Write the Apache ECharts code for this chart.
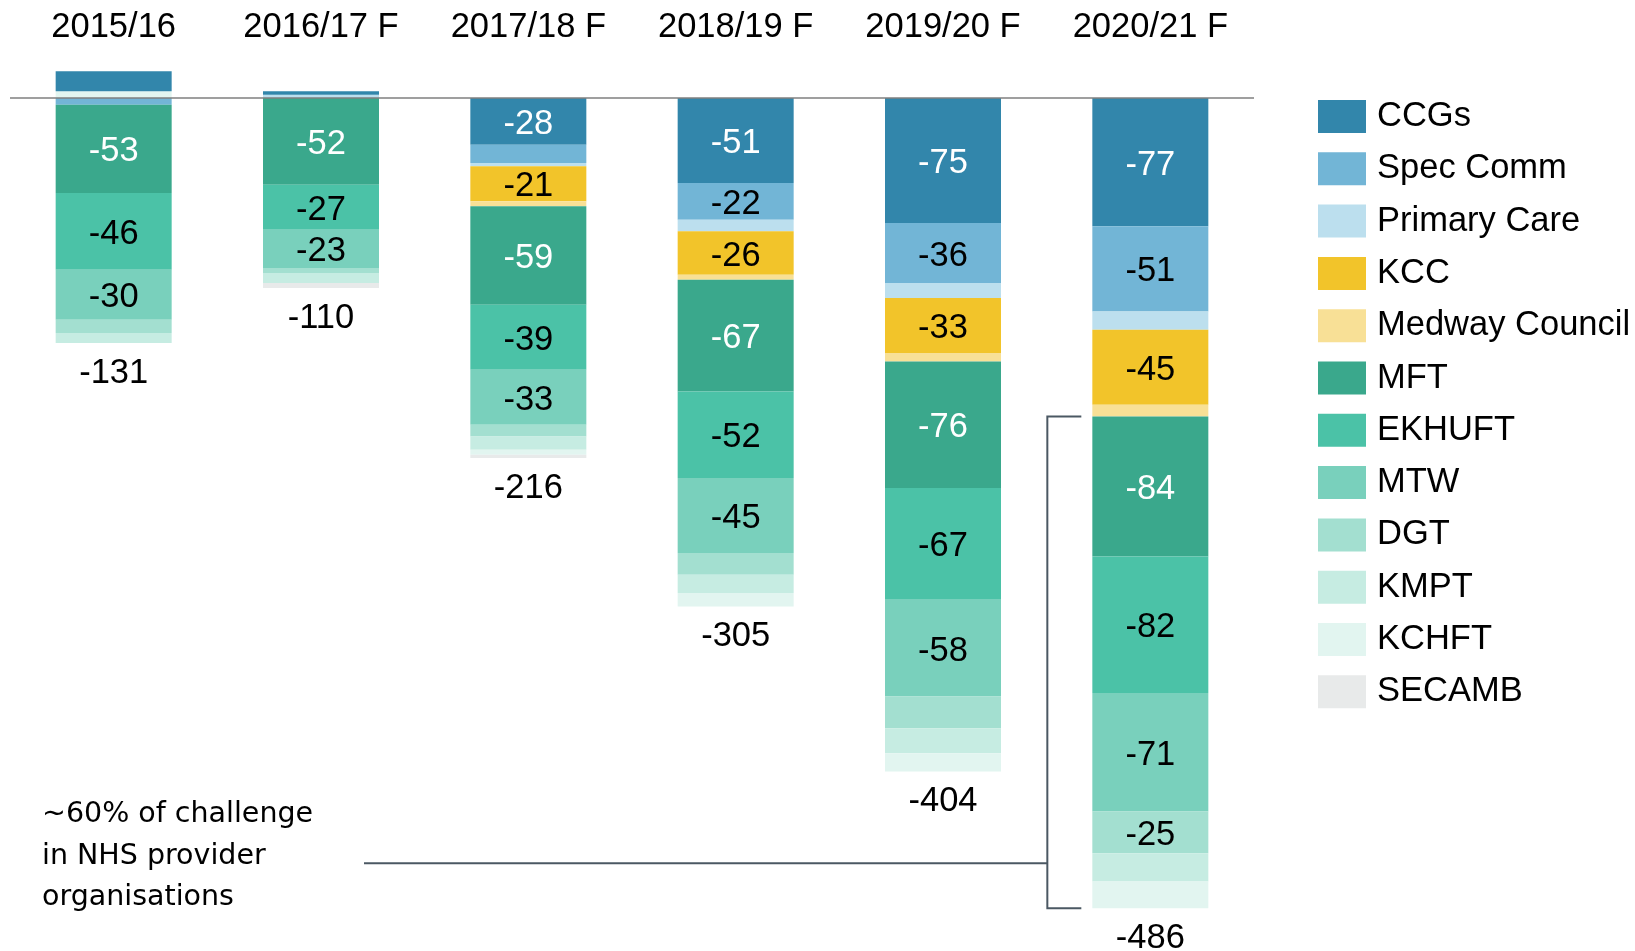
<!DOCTYPE html>
<html>
<head>
<meta charset="utf-8">
<script src="https://cdn.jsdelivr.net/npm/echarts@6/dist/echarts.min.js"></script>
<style>
html,body{margin:0;padding:0;background:#fff;}
#chart{width:1635px;height:951px;}
</style>
</head>
<body>
<div id="chart"></div>
<script>
const categories = ['2015/16', '2016/17 F', '2017/18 F', '2018/19 F', '2019/20 F', '2020/21 F'];

const seriesNames = ['CCGs', 'Spec Comm', 'Primary Care', 'KCC', 'Medway Council', 'MFT', 'EKHUFT', 'MTW', 'DGT', 'KMPT', 'KCHFT', 'SECAMB'];

const ccgs        = [12,   2, -28, -51, -75, -77];
const specComm    = [-4,   0, -11, -22, -36, -51];
const primaryCare = [0,    2,  -2,  -7,  -9, -11];
const kcc         = [0,    0, -21, -26, -33, -45];
const medway      = [0,    0,  -3,  -3,  -5,  -7];
const mft         = [-53, -52, -59, -67, -76, -84];
const ekhuft      = [-46, -27, -39, -52, -67, -82];
const mtw         = [-30, -23, -33, -45, -58, -71];
const dgt         = [-8,  -3,  -7, -13, -19, -25];
const kmpt        = [-6,  -6,  -8, -11, -15, -17];
const kchft       = [4,    0,  -3,  -8, -11, -16];
const secamb      = [0,   -3,  -2,   0,   0,   0];

const annotationText = '~60% of challenge\nin NHS provider\norganisations';

const seriesValues = [ccgs, specComm, primaryCare, kcc, medway, mft, ekhuft, mtw, dgt, kmpt, kchft, secamb];
const colors = ['#3286ab', '#72b5d6', '#bcdfee', '#f2c42a', '#f8e096', '#3aa88c', '#4bc2a7', '#79d0bc', '#a3dfd0', '#c6ece2', '#e2f5f0', '#e8eaea'];
const whiteLabel = {'CCGs': true, 'MFT': true};

const FONT = 'Liberation Sans, Arial, sans-serif';
const FS = 34.5;

const series = [];
// negative parts, stacked downward in series order
seriesValues.forEach((vals, k) => {
  series.push({
    name: seriesNames[k],
    type: 'bar',
    stack: 'total',
    barWidth: 116,
    itemStyle: {color: colors[k]},
    data: vals.map(v => v < 0 ? v : '-'),
    label: {
      show: true,
      position: 'inside',
      offset: [0, 3],
      fontFamily: FONT,
      fontSize: FS,
      color: whiteLabel[seriesNames[k]] ? '#ffffff' : '#000000',
      formatter: p => (Math.abs(p.value) >= 20 ? String(p.value) : '')
    }
  });
});
// positive parts, stacked upward in reverse order (first series on top)
for (let k = seriesValues.length - 1; k >= 0; k--) {
  const vals = seriesValues[k];
  if (!vals.some(v => v > 0)) continue;
  series.push({
    name: seriesNames[k],
    type: 'bar',
    stack: 'total',
    barWidth: 116,
    itemStyle: {color: colors[k]},
    data: vals.map(v => v > 0 ? v : '-'),
    label: {show: false}
  });
}

const negSums = categories.map((c, i) => seriesValues.reduce((s, a) => s + (a[i] < 0 ? a[i] : 0), 0));
const totals = categories.map((c, i) => seriesValues.reduce((s, a) => s + a[i], 0));

series.push({
  type: 'scatter',
  z: 10,
  symbolSize: 1,
  itemStyle: {color: 'rgba(0,0,0,0)', opacity: 1},
  data: negSums.map((v, i) => [i, v]),
  label: {
    show: true,
    position: 'bottom',
    distance: 12,
    fontFamily: FONT,
    fontSize: FS,
    color: '#000',
    opacity: 1,
    formatter: p => String(totals[p.dataIndex])
  },
  markLine: {
    silent: true,
    symbol: 'none',
    label: {show: false},
    lineStyle: {color: '#7f7f7f', width: 1.5, type: 'solid', opacity: 1},
    data: [{yAxis: 0}]
  }
});

const chart = echarts.init(document.getElementById('chart'), null, {renderer: 'canvas'});
chart.setOption({
  animation: false,
  backgroundColor: '#ffffff',
  grid: {left: 10, right: 381, top: 48, bottom: 19.5, containLabel: false},
  xAxis: {
    type: 'category',
    data: categories,
    position: 'top',
    axisLine: {show: false},
    axisTick: {show: false},
    splitLine: {show: false},
    axisLabel: {fontFamily: FONT, fontSize: FS, color: '#000', margin: 3}
  },
  yAxis: {
    type: 'value',
    min: -500,
    max: 30,
    show: false
  },
  legend: {
    data: seriesNames,
    orient: 'vertical',
    left: 1318,
    top: 95,
    padding: 0,
    itemWidth: 48,
    itemHeight: 33,
    itemGap: 9.3,
    icon: 'rect',
    selectedMode: false,
    textStyle: {fontFamily: FONT, fontSize: FS, lineHeight: 33, color: '#000', padding: [10, 0, 0, 6]}
  },
  series: series
});

// annotation bracket for provider organisations in the last year
const last = categories.length - 1;
const providerTop = [0, 1, 2, 3, 4].reduce((s, k) => s + (seriesValues[k][last] < 0 ? seriesValues[k][last] : 0), 0);
const pTop = chart.convertToPixel({gridIndex: 0}, [last, providerTop]);
const pBot = chart.convertToPixel({gridIndex: 0}, [last, negSums[last]]);
const bx = pTop[0] - 103;
const tickEnd = pTop[0] - 69;
const lineStyle = {stroke: '#4b5863', lineWidth: 2, fill: null};
chart.setOption({
  graphic: [
    {type: 'polyline', shape: {points: [[tickEnd, pTop[1]], [bx, pTop[1]], [bx, pBot[1]], [tickEnd, pBot[1]]]}, style: lineStyle, z: 20},
    {type: 'line', shape: {x1: 364, y1: pBot[1] - 45, x2: bx, y2: pBot[1] - 45}, style: lineStyle, z: 20},
    {type: 'text', left: 42, top: 794, z: 20, style: {text: annotationText, fontFamily: 'DejaVu Sans, sans-serif', fontSize: 28.5, lineHeight: 41.5, fill: '#000'}}
  ]
});
</script>
</body>
</html>
